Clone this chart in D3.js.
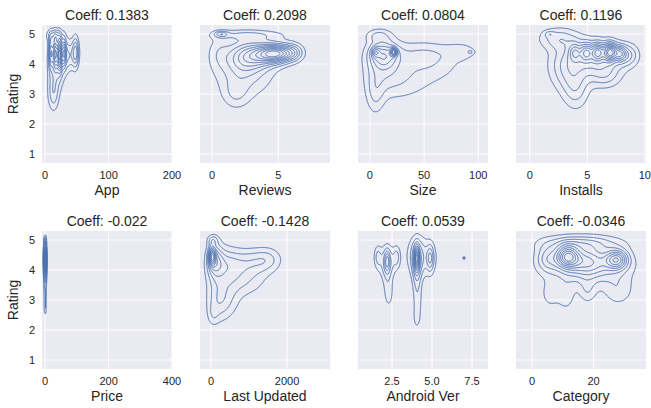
<!DOCTYPE html>
<html><head><meta charset="utf-8">
<script src="https://cdn.jsdelivr.net/npm/d3@7"></script>
<style>
body{margin:0;background:#fff}
text{font-family:"Liberation Sans",Arial,sans-serif;fill:#262626}
</style>
</head><body>
<svg id="chart" width="651" height="408"></svg>
<script>
// ---------- data ----------
const features = ["App","Reviews","Size","Installs","Price","Last Updated","Android Ver","Category"];
const coeffs = ["0.1383","0.2098","0.0804","0.1196","-0.022","-0.1428","0.0539","-0.0346"];
const xDomains = [[-5,200],[-0.9,8.9],[-11,109],[-1.2,10.1],[-10,400],[-290,3130],[0.375,8.5],[-5.2,37]];
const xTicks = [[0,100,200],[0,5],[0,50,100],[0,5,10],[0,200,400],[0,2000],[2.5,5,7.5],[0,20]];
const xTickLabels = [["0","100","200"],["0","5"],["0","50","100"],["0","5","10"],["0","200","400"],["0","2000"],["2.5","5.0","7.5"],["0","20"]];
const yDomain = [0.7,5.3];
const yTicks = [1,2,3,4,5];
const levelCounts = [11,11,11,11,11,11,11,11];

// density concentrations: [feature value, rating, spread in value, spread in rating, weight]
const appBlobs = [[9,4.4,2.5,0.35,0.6],[16,4.4,2.5,0.35,0.75],[23,4.35,2.5,0.35,1],[30,4.4,2,0.3,0.55],[48,4.4,3.5,0.35,0.45],[18,3.9,9,0.5,0.35],[36,4.3,9,0.35,0.35],[13,3.0,6,0.4,0.3],[15,4.95,9,0.15,0.3]];
const reviewsBlobs = [[4.9,4.35,0.9,0.2,1],[3.6,4.3,1.1,0.28,0.45],[2.4,4.2,1.0,0.4,0.3],[2.5,3.7,1.6,0.6,0.25],[0.7,5.0,0.35,0.07,0.3],[2.8,4.97,2.0,0.12,0.22],[0.5,4.4,0.6,0.4,0.15],[1.8,3.0,0.7,0.35,0.18],[6.2,4.4,0.5,0.2,0.25]];
const sizeBlobs = [[22,4.4,2,0.09,1.3],[5,4.4,2.5,0.12,0.55],[12,4.3,9,0.3,0.7],[12,4.0,12,0.6,0.35],[50,4.35,20,0.3,0.33],[85,4.42,10,0.2,0.25],[93,4.4,2,0.05,0.22],[5,3.0,6,0.5,0.33],[30,3.5,20,0.5,0.3],[62,3.85,18,0.35,0.18],[8,4.95,8,0.15,0.33]];
const installsBlobs = [[3.9,4.4,0.35,0.2,0.35],[4.9,4.4,0.35,0.2,0.45],[5.9,4.4,0.35,0.2,0.6],[7.0,4.4,0.4,0.2,1],[7.9,4.35,0.35,0.18,0.5],[5.5,4.2,1.8,0.4,0.5],[2.5,4.85,1.2,0.25,0.3],[1.7,5.0,0.3,0.07,0.15],[4,3.2,0.8,0.5,0.3],[3,3.8,1,0.5,0.25],[6.5,3.6,1.0,0.3,0.25],[8.6,4.3,0.6,0.25,0.3]];
const priceBlobs = [[0,4.4,3,0.3,1],[0,4.0,3,0.45,0.5],[0,3.0,2.5,0.3,0.2],[0,5.0,2.5,0.1,0.3],[0,2.7,2,0.15,0.12]];
const lastUpdatedBlobs = [[30,4.45,60,0.2,1],[100,4.3,150,0.4,0.6],[400,4.2,250,0.4,0.35],[1000,4.3,350,0.3,0.3],[1500,4.35,260,0.28,0.28],[150,3.0,200,0.5,0.25],[800,3.7,450,0.4,0.3],[400,3.0,250,0.45,0.25],[50,5.0,100,0.12,0.3],[50,2.5,100,0.25,0.15]];
const androidBlobs = [[2.2,4.3,0.12,0.25,0.45],[2.2,4.0,0.25,0.5,0.25],[1.6,4.45,0.15,0.25,0.3],[2.8,4.45,0.15,0.25,0.3],[2.2,4.3,0.45,0.35,0.35],[2.3,3.2,0.2,0.35,0.22],[4.05,4.4,0.1,0.25,1],[4.05,4.1,0.2,0.5,0.5],[4.1,3.0,0.2,0.45,0.25],[4.05,2.4,0.15,0.25,0.2],[4.9,4.4,0.15,0.3,0.5],[4.4,4.4,0.6,0.45,0.4],[4.0,4.6,0.35,0.4,0.2],[7.0,4.4,0.05,0.03,0.5]];
const categoryBlobs = [[11.5,4.45,2.5,0.25,1],[27.5,4.35,2.5,0.22,0.8],[18,4.35,4,0.3,0.4],[5,4.4,2.5,0.3,0.35],[18,4.1,9,0.4,0.45],[16,4.9,9,0.2,0.35],[6,3.2,2,0.3,0.2],[11,3.15,2,0.35,0.2],[18,3.3,2,0.3,0.2],[28,3.3,3.5,0.35,0.2]];
const blobs = [appBlobs,reviewsBlobs,sizeBlobs,installsBlobs,priceBlobs,lastUpdatedBlobs,androidBlobs,categoryBlobs];

// ---------- layout ----------
const colLeft = [42,200,358,516], panelW = 130;
const rowTop = [25,231], panelH = 138;
const lineColor = "#4C72B0";

const svg = d3.select("#chart");
const defs = svg.append("defs");

features.forEach((feat, k) => {
  const col = k % 4, row = Math.floor(k / 4);
  const x0 = colLeft[col], y0 = rowTop[row];
  const x = d3.scaleLinear().domain(xDomains[k]).range([x0, x0 + panelW]);
  const y = d3.scaleLinear().domain(yDomain).range([y0 + panelH, y0]);
  const g = svg.append("g");

  g.append("rect").attr("x", x0).attr("y", y0).attr("width", panelW).attr("height", panelH).attr("fill", "#EAEAF2");
  g.append("g").selectAll("line").data(yTicks).join("line")
    .attr("x1", x0).attr("x2", x0 + panelW).attr("y1", d => y(d)).attr("y2", d => y(d))
    .attr("stroke", "#fff").attr("stroke-width", 1);
  g.append("g").selectAll("line").data(xTicks[k].filter(t => x(t) <= x0 + panelW + 0.5)).join("line")
    .attr("x1", d => x(d)).attr("x2", d => x(d)).attr("y1", y0).attr("y2", y0 + panelH)
    .attr("stroke", "#fff").attr("stroke-width", 1);

  const pad = 10, n = panelW + 2 * pad, m = panelH + 2 * pad;
  const vals = new Float64Array(n * m);
  const B = blobs[k];
  let mx = 0;
  for (let j = 0; j < m; j++) {
    const r = y.invert(y0 - pad + j + 0.5);
    for (let i = 0; i < n; i++) {
      const v = x.invert(x0 - pad + i + 0.5);
      let s = 0;
      for (const b of B) {
        const dx = (v - b[0]) / b[2], dy = (r - b[1]) / b[3];
        s += b[4] * Math.exp(-0.5 * (dx * dx + dy * dy));
      }
      vals[j * n + i] = s;
      if (s > mx) mx = s;
    }
  }
  const N = levelCounts[k];
  const thresholds = d3.range(1, N).map(q => mx * q / N);
  const contours = d3.contours().size([n, m]).thresholds(thresholds)(vals);
  const path = d3.geoPath(d3.geoIdentity().translate([x0 - pad, y0 - pad]));
  const cid = "clip" + k;
  defs.append("clipPath").attr("id", cid).append("rect")
    .attr("x", x0).attr("y", y0).attr("width", panelW).attr("height", panelH);
  g.append("g").attr("clip-path", `url(#${cid})`).selectAll("path").data(contours).join("path")
    .attr("d", path).attr("fill", "none").attr("stroke", lineColor).attr("stroke-width", 1)
    .attr("stroke-linejoin", "round");

  g.append("g").selectAll("text").data(xTicks[k]).join("text")
    .attr("x", d => x(d)).attr("y", y0 + panelH + 16)
    .attr("text-anchor", "middle").attr("font-size", 11).text((d, i) => xTickLabels[k][i]);
  g.append("text").attr("x", x0 + panelW / 2).attr("y", y0 + panelH + 32)
    .attr("text-anchor", "middle").attr("font-size", 14).text(feat);
  g.append("text").attr("x", x0 + panelW / 2).attr("y", y0 - 5)
    .attr("text-anchor", "middle").attr("font-size", 14).text("Coeff: " + coeffs[k]);
  if (col === 0) {
    g.append("g").selectAll("text").data(yTicks).join("text")
      .attr("x", x0 - 7).attr("y", d => y(d) + 4)
      .attr("text-anchor", "end").attr("font-size", 11).text(d => d);
    g.append("text").attr("transform", `translate(${x0 - 24},${y0 + panelH / 2}) rotate(-90)`)
      .attr("text-anchor", "middle").attr("font-size", 14).text("Rating");
  }
});
</script>
</body></html>
